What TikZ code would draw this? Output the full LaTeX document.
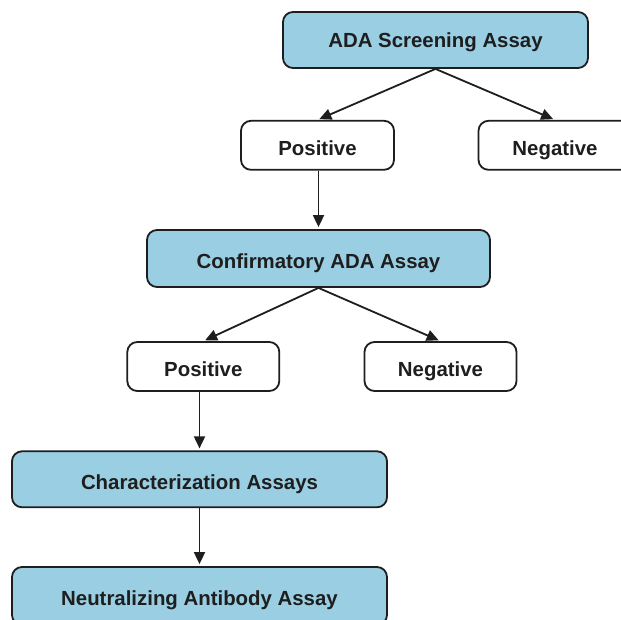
\documentclass[tikz,border=0pt]{standalone}
\usepackage{fontspec}
\setmainfont{Liberation Sans}
\usetikzlibrary{arrows.meta}
\definecolor{boxblue}{RGB}{153,206,227}
\definecolor{ink}{RGB}{30,30,30}
\begin{document}
\begin{tikzpicture}[x=1pt,y=-1pt,
  base/.style={draw=ink,line width=1.8pt,rounded corners=10pt,inner sep=0pt,
    font=\fontsize{20.4}{24}\selectfont\bfseries,text=ink,align=center,
    text height=19.4pt,text depth=0pt},
  bluebox/.style={base,fill=boxblue},
  whitebox/.style={base,fill=white,minimum width=153pt,minimum height=49pt},
  conn/.style={draw=ink,line width=1.8pt,shorten >=2pt,-{Triangle[length=12pt,width=11pt]}}]
\clip (0,0) rectangle (621,619);
\useasboundingbox (0,0) rectangle (621,619);
\fill[white] (0,0) rectangle (621,619);
\node[bluebox,minimum width=305pt,minimum height=56pt,text height=14.6pt,text depth=0pt] (s) at (435.5,40) {ADA Screening Assay};
\node[whitebox] (p1) at (317.5,145.3) {Positive};
\node[whitebox] (n1) at (555,145.3) {Negative};
\node[bluebox,minimum width=343pt,minimum height=57pt] (c) at (318.5,258.5) {Confirmatory ADA Assay};
\node[whitebox,minimum width=152pt] (p2) at (203.3,366.5) {Positive};
\node[whitebox,minimum width=152pt] (n2) at (440.5,366.5) {Negative};
\node[bluebox,minimum width=375pt,minimum height=56pt] (ch) at (199.5,479.3) {Characterization Assays};
\node[bluebox,minimum width=375pt,minimum height=58pt] (na) at (199.5,596) {Neutralizing Antibody Assay};
\draw[conn] (s.south) -- (p1.north);
\draw[conn] (s.south) -- (n1.north);
\draw[conn] (p1.south -| c.north) -- (c.north);
\draw[conn] (c.south) -- (p2.north);
\draw[conn] (c.south) -- (n2.north);
\draw[conn] (p2.south -| ch.north) -- (ch.north);
\draw[conn] (ch.south) -- (na.north);
\end{tikzpicture}
\end{document}
